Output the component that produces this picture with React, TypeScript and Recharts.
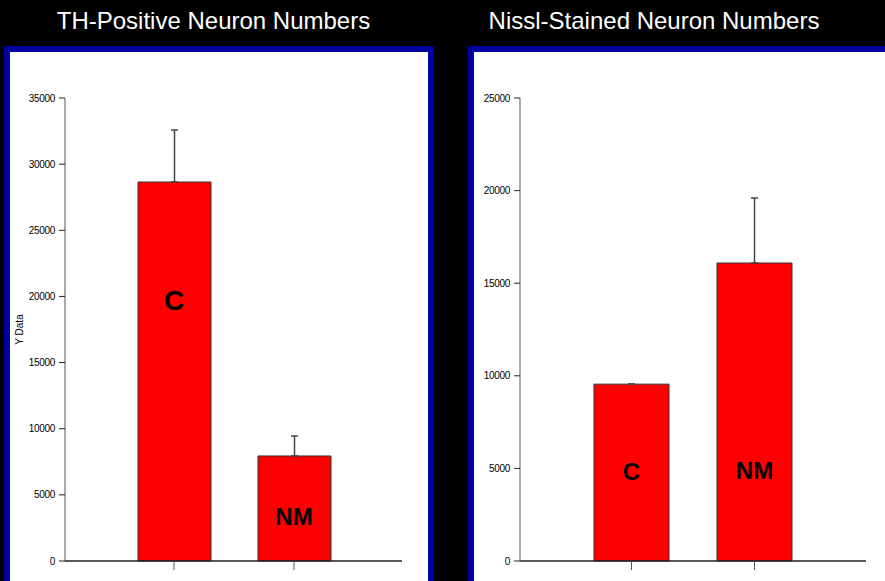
import React from "react";
import { BarChart, Bar, XAxis, YAxis, ErrorBar, ReferenceDot } from "recharts";

const groups = ["C", "NM"];

const thMeans = [28650, 7940];
const thErrors = [3930, 1510];
const thLabelAt = [19730, 3330];
const thTicks = [0, 5000, 10000, 15000, 20000, 25000, 30000, 35000];

const nisslMeans = [9550, 16090];
const nisslErrors = [0, 3510];
const nisslLabelAt = [4810, 4910];
const nisslTicks = [0, 5000, 10000, 15000, 20000, 25000];

const FONT = '"Liberation Sans", Arial, sans-serif';
const BLUE = "#0000a0";
const AXIS = "#555";

const thData = groups.map((g, i) => ({ group: g, mean: thMeans[i], err: [0, thErrors[i]] }));
const nisslData = groups.map((g, i) => ({ group: g, mean: nisslMeans[i], err: [0, nisslErrors[i]] }));

const tickStyle = { fontSize: 10, fill: "#000", fontFamily: FONT, letterSpacing: -0.3 };

function Panel({ left }: { left: number }) {
  return (
    <div
      style={{
        position: "absolute",
        left,
        top: 46,
        width: 430,
        height: 600,
        boxSizing: "border-box",
        border: `6px solid ${BLUE}`,
        background: "#fff",
      }}
    />
  );
}

function Title({ center, text }: { center: number; text: string }) {
  return (
    <div
      style={{
        position: "absolute",
        left: center - 220,
        width: 440,
        top: 9,
        textAlign: "center",
        color: "#fff",
        fontFamily: FONT,
        fontSize: 24,
        lineHeight: "24px",
        whiteSpace: "nowrap",
      }}
    >
      {text}
    </div>
  );
}

function Chart({
  data,
  ticks,
  labelAt,
  width,
  yWidth,
  right,
  pad,
  barSize,
  yLabel,
}: {
  data: { group: string; mean: number; err: number[] }[];
  ticks: number[];
  labelAt: number[];
  width: number;
  yWidth: number;
  right: number;
  pad: { left: number; right: number };
  barSize: number;
  yLabel?: string;
}) {
  const max = ticks[ticks.length - 1];
  return (
    <BarChart width={width} height={581} data={data} margin={{ top: 98, right, left: 0, bottom: 0 }}>
      <XAxis
        dataKey="group"
        height={20}
        padding={pad}
        tick={() => <g />}
        tickSize={9}
        tickLine={{ stroke: AXIS }}
        axisLine={{ stroke: "#222", strokeWidth: 1.5 }}
      />
      <XAxis xAxisId="top" dataKey="group" orientation="top" height={0} tick={false} tickLine={false} axisLine={{ stroke: AXIS }} />
      <YAxis
        domain={[0, max]}
        ticks={ticks}
        width={yWidth}
        tickSize={6}
        tickMargin={4}
        tick={tickStyle}
        tickLine={{ stroke: "#222" }}
        axisLine={{ stroke: AXIS }}
        label={
          yLabel
            ? { value: yLabel, angle: -90, position: "insideLeft", offset: 19, style: { fontSize: 10, fontFamily: FONT, fill: "#000", textAnchor: "middle" } }
            : undefined
        }
      />
      <YAxis yAxisId="right" orientation="right" domain={[0, max]} width={0} tick={false} tickLine={false} axisLine={{ stroke: AXIS }} />
      <Bar dataKey="mean" fill="#ff0000" stroke="#333" strokeWidth={1} barSize={barSize} isAnimationActive={false}>
        <ErrorBar dataKey="err" direction="y" width={3.5} stroke="#444" strokeWidth={1.5} isAnimationActive={false} />
      </Bar>
      {data.map((d, i) => (
        <ReferenceDot
          key={d.group}
          x={d.group}
          y={labelAt[i]}
          r={0}
          fill="none"
          stroke="none"
          label={{
            value: d.group,
            position: "center",
            style: { fontSize: d.group === "C" && yLabel ? 28 : 24, fontWeight: "bold", fontFamily: FONT, fill: "#000" },
          }}
        />
      ))}
    </BarChart>
  );
}

export default function App() {
  return (
    <div style={{ position: "absolute", left: 0, top: 0, width: 885, height: 581, background: "#000", overflow: "hidden" }}>
      <Panel left={4} />
      <Panel left={468} />
      <Title center={213.5} text="TH-Positive Neuron Numbers" />
      <Title center={654} text="Nissl-Stained Neuron Numbers" />
      <div style={{ position: "absolute", left: 0, top: 0 }}>
        <Chart
          data={thData}
          ticks={thTicks}
          labelAt={thLabelAt}
          width={432}
          yWidth={65}
          right={30}
          pad={{ left: 49, right: 48 }}
          barSize={73}
          yLabel="Y Data"
        />
      </div>
      <div style={{ position: "absolute", left: 440, top: 0 }}>
        <Chart
          data={nisslData}
          ticks={nisslTicks}
          labelAt={nisslLabelAt}
          width={445}
          yWidth={80}
          right={19}
          pad={{ left: 50, right: 50 }}
          barSize={75}
        />
      </div>
    </div>
  );
}
